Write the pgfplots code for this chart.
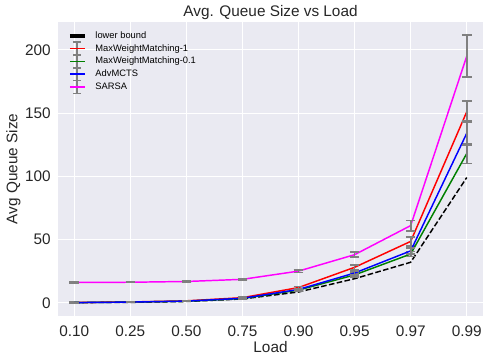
\documentclass[border=0pt]{standalone}
\usepackage{pgfplots}
\pgfplotsset{compat=1.18}
\usepackage{fontspec}
\setmainfont{Liberation Sans}
\definecolor{bg}{HTML}{EAEAF2}
\definecolor{mred}{HTML}{FF0000}
\definecolor{mgreen}{HTML}{008000}
\definecolor{mblue}{HTML}{0000FF}
\definecolor{mmag}{HTML}{FF00FF}
\definecolor{ebar}{HTML}{808080}
\definecolor{txt}{HTML}{262626}
\pgfplotsset{
  ebarlegend/.style={legend image code/.code={
    \draw[ebar, solid, line width=1.2pt] (5.5pt,-4.8pt) -- (5.5pt,4.8pt);
    \draw[ebar, solid, line width=1.2pt] (2.5pt,-4.8pt) -- (8.5pt,-4.8pt);
    \draw[ebar, solid, line width=1.2pt] (2.5pt,4.8pt) -- (8.5pt,4.8pt);
    \draw[##1, line width=1.2pt] (0pt,0pt) -- (11pt,0pt);
  }},
  ebars/.style={error bars/.cd, y dir=both, y explicit,
    error bar style={ebar, line width=1.3pt, solid},
    error mark options={ebar, rotate=90, mark size=3.6pt, line width=1.3pt, solid}},
}
\begin{document}
\begin{tikzpicture}
\useasboundingbox (-43.5pt,-28.5pt) rectangle (319.5pt,237pt);
\begin{axis}[
  at={(0,0)}, anchor=south west,
  scale only axis, width=318.75pt, height=220.5pt,
  xmin=-0.29, xmax=7.29, ymin=-10.5, ymax=222,
  axis background/.style={fill=bg},
  axis line style={draw=none},
  major tick length=0pt,
  grid=major, grid style={white, line width=0.8pt},
  xtick={0,1,2,3,4,5,6,7},
  xticklabels={0.10,0.25,0.50,0.75,0.90,0.95,0.97,0.99},
  ytick={0,50,100,150,200},
  /pgf/number format/assume math mode=true,
  tick label style={font=\fontsize{11.5}{13}\selectfont, text=txt},
  label style={font=\fontsize{11.5}{13}\selectfont, text=txt},
  title style={font=\fontsize{11.5}{13}\selectfont, text=txt, yshift=-8pt},
  title={Avg. Queue Size vs Load},
  xlabel={Load}, ylabel={Avg Queue Size},
  xticklabel style={yshift=-3.5pt},
  yticklabel style={xshift=-2pt},
  xlabel style={yshift=3pt},
  ylabel style={yshift=-3.5pt},
  legend style={at={(0,1)}, anchor=north west, xshift=5pt, yshift=-3pt,
    draw=none, fill=none, font=\fontsize{7}{8}\selectfont, row sep=-1.2pt,
    column sep=4.5pt,
    legend cell align=left, inner sep=2pt},
]
\addplot[black, dash pattern=on 4.2pt off 1.8pt, line width=1.1pt,
  legend image code/.code={\draw[black, solid, line width=3.4pt] (0pt,0pt) -- (11pt,0pt);}]
  coordinates {(0,0.1) (1,0.3) (2,1) (3,3) (4,8.5) (5,19) (6,32) (7,99)};
\addlegendentry{lower bound}
\addplot[mred, line width=1.1pt, ebarlegend, ebars] coordinates {
  (0,0.2) +- (0,0.1) (1,0.6) +- (0,0.1) (2,1.5) +- (0,0.2) (3,4) +- (0,0.3)
  (4,12) +- (0,0.8) (5,28) +- (0,2) (6,48.5) +- (0,3.5) (7,151) +- (0,8.5)};
\addlegendentry{MaxWeightMatching-1}
\addplot[mgreen, line width=1.1pt, ebarlegend, ebars] coordinates {
  (0,0.1) +- (0,0.1) (1,0.5) +- (0,0.1) (2,1.2) +- (0,0.2) (3,3.3) +- (0,0.3)
  (4,10) +- (0,0.6) (5,22) +- (0,1.5) (6,38.5) +- (0,2) (7,118) +- (0,8)};
\addlegendentry{MaxWeightMatching-0.1}
\addplot[mblue, line width=1.1pt, ebarlegend, ebars] coordinates {
  (0,0.1) +- (0,0.1) (1,0.5) +- (0,0.1) (2,1.3) +- (0,0.2) (3,3.5) +- (0,0.3)
  (4,10.5) +- (0,0.6) (5,23.5) +- (0,1.5) (6,41) +- (0,2.5) (7,134) +- (0,9.5)};
\addlegendentry{AdvMCTS}
\addplot[mmag, line width=1.1pt, ebarlegend, ebars] coordinates {
  (0,16) +- (0,0.3) (1,16.2) +- (0,0.3) (2,16.8) +- (0,0.4) (3,18.5) +- (0,0.5)
  (4,25) +- (0,1) (5,38) +- (0,2) (6,61) +- (0,4) (7,195) +- (0,16.5)};
\addlegendentry{SARSA}
\end{axis}
\end{tikzpicture}
\end{document}
